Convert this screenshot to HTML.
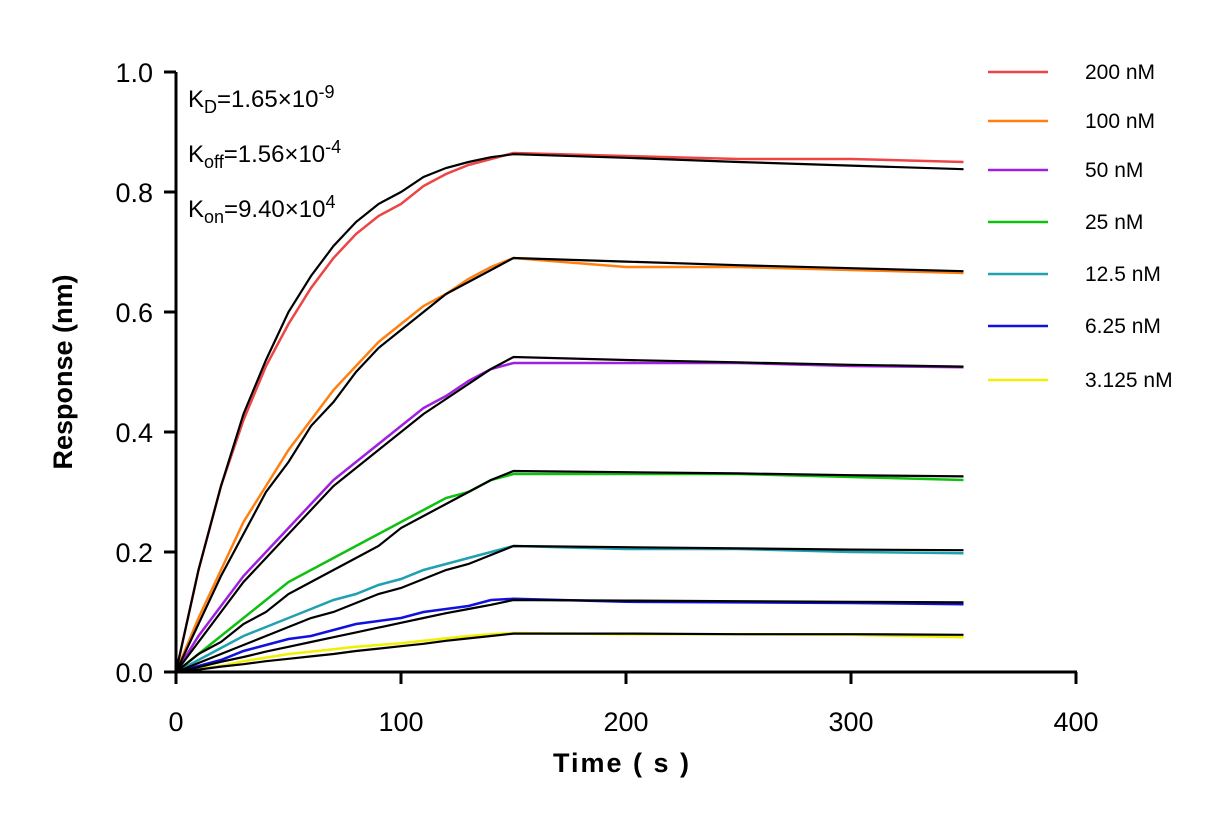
<!DOCTYPE html>
<html><head><meta charset="utf-8"><style>body{margin:0;background:#fff}svg{font-family:"Liberation Sans",Arial,sans-serif}</style></head>
<body>
<svg id="c" width="1231" height="825"></svg>
<script>
const times=[0,10,20,30,40,50,60,70,80,90,100,110,120,130,140,150,200,250,300,350];
const seriesNames=["200 nM","100 nM","50 nM","25 nM","12.5 nM","6.25 nM","3.125 nM"];
const seriesColors=["#ee4444","#ff8010","#a020e0","#10c010","#20a0b0","#1010e0","#f0f000"];
const d200=[0,0.17,0.31,0.42,0.51,0.58,0.64,0.69,0.73,0.76,0.78,0.81,0.83,0.845,0.855,0.865,0.86,0.855,0.855,0.85];
const f200=[0,0.17,0.31,0.43,0.52,0.60,0.66,0.71,0.75,0.78,0.80,0.825,0.84,0.85,0.858,0.863,0.857,0.85,0.844,0.838];
const d100=[0,0.09,0.17,0.25,0.31,0.37,0.42,0.47,0.51,0.55,0.58,0.61,0.63,0.655,0.675,0.69,0.675,0.675,0.67,0.665];
const f100=[0,0.08,0.16,0.23,0.30,0.35,0.41,0.45,0.50,0.54,0.57,0.60,0.63,0.65,0.67,0.69,0.684,0.678,0.673,0.668];
const d50=[0,0.06,0.11,0.16,0.20,0.24,0.28,0.32,0.35,0.38,0.41,0.44,0.46,0.485,0.505,0.515,0.515,0.515,0.51,0.508];
const f50=[0,0.05,0.10,0.15,0.19,0.23,0.27,0.31,0.34,0.37,0.40,0.43,0.455,0.48,0.505,0.525,0.52,0.516,0.512,0.509];
const d25=[0,0.03,0.06,0.09,0.12,0.15,0.17,0.19,0.21,0.23,0.25,0.27,0.29,0.30,0.32,0.33,0.33,0.33,0.325,0.32];
const f25=[0,0.03,0.05,0.08,0.10,0.13,0.15,0.17,0.19,0.21,0.24,0.26,0.28,0.30,0.32,0.335,0.333,0.331,0.328,0.326];
const d12=[0,0.02,0.04,0.06,0.075,0.09,0.105,0.12,0.13,0.145,0.155,0.17,0.18,0.19,0.2,0.21,0.205,0.205,0.2,0.198];
const f12=[0,0.015,0.03,0.045,0.06,0.075,0.09,0.10,0.115,0.13,0.14,0.155,0.17,0.18,0.195,0.21,0.208,0.206,0.204,0.203];
const d6=[0,0.01,0.02,0.035,0.045,0.055,0.06,0.07,0.08,0.085,0.09,0.1,0.105,0.11,0.12,0.122,0.117,0.116,0.115,0.113];
const f6=[0,0.008,0.017,0.025,0.034,0.042,0.05,0.058,0.066,0.074,0.082,0.09,0.098,0.105,0.112,0.12,0.119,0.118,0.117,0.116];
const d3=[0,0.005,0.01,0.018,0.024,0.03,0.034,0.038,0.042,0.045,0.048,0.052,0.056,0.06,0.063,0.065,0.063,0.063,0.062,0.058];
const f3=[0,0.004,0.009,0.013,0.018,0.022,0.026,0.03,0.035,0.039,0.043,0.047,0.052,0.056,0.06,0.064,0.064,0.063,0.063,0.062];
const xTicks=[0,100,200,300,400];
const yTicks=[0,0.2,0.4,0.6,0.8,1.0];
const dataSets=[d200,d100,d50,d25,d12,d6,d3];
const fitSets=[f200,f100,f50,f25,f12,f6,f3];
const ns="http://www.w3.org/2000/svg",svg=document.getElementById('c');
const X=t=>176+t*2.25, Y=v=>672-v*600;
function mk(tag,a,p){const e=document.createElementNS(ns,tag);for(const k in a)e.setAttribute(k,a[k]);(p||svg).appendChild(e);return e;}
function path(vals){return vals.map((v,i)=>(i?'L':'M')+X(times[i]).toFixed(1)+','+Y(v).toFixed(1)).join('');}
dataSets.forEach((s,i)=>{const e=mk('path',{d:path(s),fill:'none',stroke:seriesColors[i],'stroke-width':2.5});

});
fitSets.forEach((s,i)=>{const e=mk('path',{d:path(s),fill:'none',stroke:'#000','stroke-width':2.2});

});
const ax=mk('g',{});
mk('line',{x1:176,y1:72,x2:176,y2:673,stroke:'#000','stroke-width':3},ax);
mk('line',{x1:175,y1:672,x2:1077,y2:672,stroke:'#000','stroke-width':3},ax);
yTicks.forEach(v=>{mk('line',{x1:164,y1:Y(v),x2:176,y2:Y(v),stroke:'#000','stroke-width':3},ax);
const t=mk('text',{x:153,y:Y(v)+10,'text-anchor':'end','font-size':27},ax);t.textContent=v.toFixed(1);});
xTicks.forEach(v=>{mk('line',{x1:X(v),y1:672,x2:X(v),y2:684,stroke:'#000','stroke-width':3},ax);
const t=mk('text',{x:X(v),y:731,'text-anchor':'middle','font-size':27},ax);t.textContent=v;});
const yt=mk('text',{x:72,y:372,'text-anchor':'middle','font-size':27,'font-weight':'bold',transform:'rotate(-90 72 372)'});yt.textContent='Response (nm)';

const xt=mk('text',{x:622,y:772,'text-anchor':'middle','font-size':27,'font-weight':'bold','letter-spacing':2});xt.textContent='Time ( s )';

const ly=[72,121,170,222,274,326,380];
seriesNames.forEach((n,i)=>{const g=mk('g',{});


mk('line',{x1:988,y1:ly[i],x2:1048,y2:ly[i],stroke:seriesColors[i],'stroke-width':2.5},g);
const t=mk('text',{x:1085,y:ly[i]+7,'font-size':21},g);t.textContent=n;});
</script>
<div style="position:absolute;left:188px;top:72px;font:24px 'Liberation Sans',Arial,sans-serif;line-height:40px">
<div>K<sub style="font-size:18px">D</sub>=1.65×10<sup style="font-size:18px">-9</sup></div>
<div>K<sub style="font-size:18px">off</sub>=1.56×10<sup style="font-size:18px">-4</sup></div>
<div>K<sub style="font-size:18px">on</sub>=9.40×10<sup style="font-size:18px">4</sup></div>
</div>
</body></html>
